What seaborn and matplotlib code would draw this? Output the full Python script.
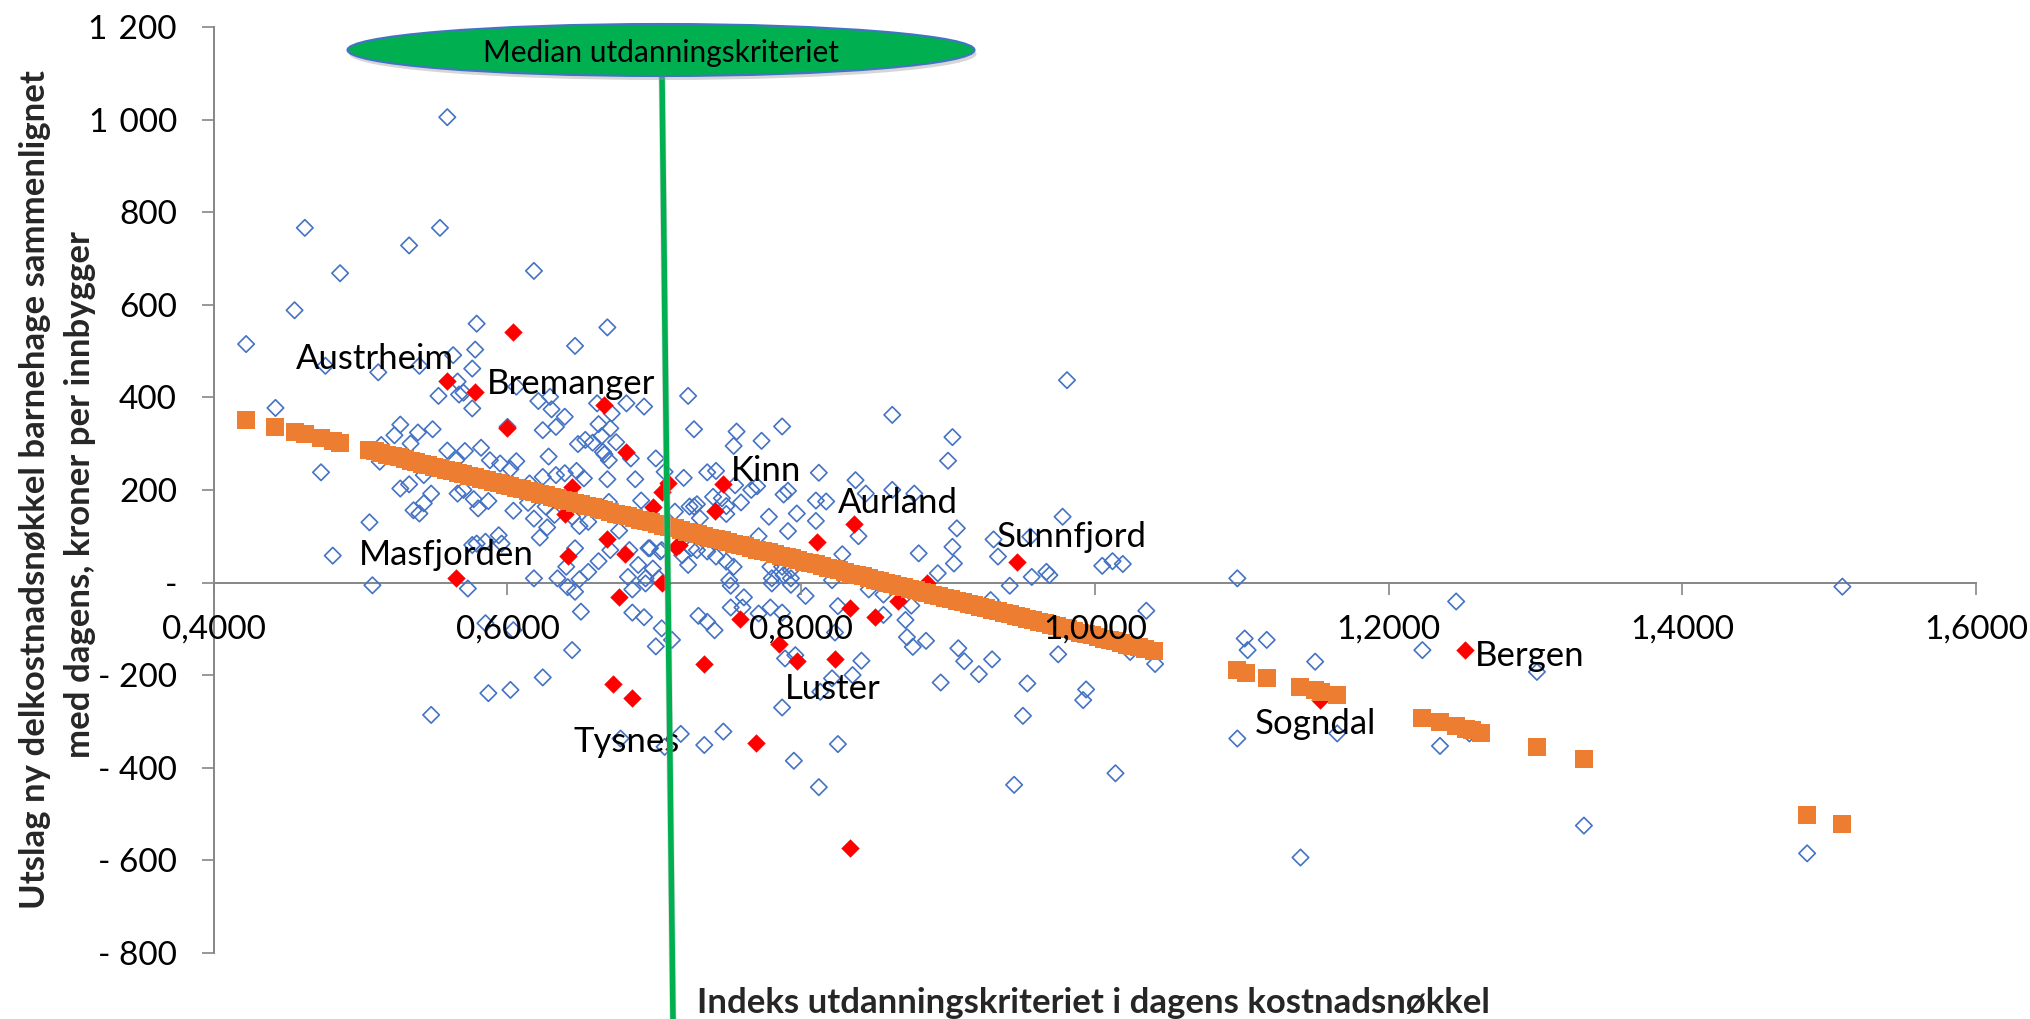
"""Utslag ny delkostnadsnokkel barnehage mot utdanningskriteriet."""
import matplotlib
matplotlib.use("Agg")
import matplotlib.pyplot as plt
import pandas as pd
import seaborn as sns
from matplotlib.patches import Ellipse
from matplotlib.ticker import FuncFormatter

blue_x = [
    .579, .668, .646, .578, .563, .576, .540, .512, .476, .566, .606, .553, .567, .570, .576, .621, .629, .630, .639, .661,
    .681, .693, .671, .600, .624, .633, .662, .670, .527, .523, .539, .549, .534, .514, .559, .571, .582, .588, .595, .606,
    .602, .628, .653, .648, .658, .664, .674, .665, .666, .669, .684, .701, .707, .720, .723, .727, .473, .513, .543, .565,
    .624, .633, .639, .647, .652, .668, .687, .615, .527, .533, .548, .543, .536, .540, .566, .570, .577, .587, .580, .604,
    .614, .618, .626, .627, .622, .506, .632, .644, .649, .655, .669, .676, .691, .714, .727, .696, .670, .481, .579, .576,
    .594, .585, .596, .646, .640, .662, .655, .689, .683, .699, .705, .723, .719, .618, .634, .682, .508, .703, .649, .641,
    .646, .573, .685, .694, .694, .650, .685, .693, .705, .701, .712, .644, .624, .602, .587, .548, .718, .747, .734, .677,
    .707, .795, .787, .585, .604, .730, .736, .741, .789, .752, .761, .760, .771, .779, .787, .752, .780, .793, .742, .749,
    .754, .779, .788, .697, .704, .725, .736, .771, .791, .778, .756, .754, .773, .787, .862, .903, .900, .736, .742, .812,
    .837, .755, .770, .766, .791, .788, .844, .862, .877, .729, .724, .740, .746, .749, .759, .749, .731, .797, .810, .817,
    .810, .828, .839, .906, .903, .880, .931, .934, .956, .904, .893, .957, .967, .969, .729, .787, .793, .751, .780, .793,
    .821, .942, 1.005, 1.012, 1.019, .803, .846, .856, .825, .875, .856, .871, .872, .876, .885, .907, .911, .930, .921, .895,
    .954, 1.035, .975, .994, .992, .951, .841, .821, .835, .813, .796, .823, .825, .812, .945, 1.014, .929, 1.041, 1.024, .978,
    .981, 1.097, 1.102, 1.104, 1.117, 1.150, 1.246, 1.223, 1.301, 1.097, 1.165, 1.235, 1.140, 1.333, 1.485, 1.509, 1.255,
    .559, .462, .554, .533, .486, .618, .455, .422, .442,
]
blue_y = [
    559, 551, 511, 503, 491, 462, 468, 454, 468, 434, 423, 403, 406, 410, 376, 392, 401, 374, 358, 387,
    387, 380, 365, 336, 329, 336, 342, 333, 341, 318, 324, 331, 300, 297, 285, 284, 291, 264, 257, 262,
    245, 272, 308, 299, 302, 316, 303, 282, 277, 264, 268, 268, 239, 226, 403, 331, 238, 261, 232, 264,
    228, 232, 236, 241, 225, 223, 223, 214, 203, 212, 192, 171, 156, 149, 192, 200, 180, 176, 160, 155,
    172, 138, 164, 119, 97, 130, 146, 142, 122, 131, 174, 112, 177, 153, 164, 74, 70, 58, 84, 81,
    102, 88, 84, 74, 34, 46, 23, 38, 70, 30, 70, 38, 59, 9, 9, 12, -6, 9, 7, -10,
    -20, -13, -15, 9, -2, -63, -65, -75, -99, -138, -124, -146, -205, -232, -239, -286, -327, -322, -351, -337,
    -355, -385, -270, -88, -103, -72, -85, -103, -164, -54, -32, -54, -67, -54, -65, -7, -2, -5, 56, 45,
    34, 34, 16, 74, 67, 74, 67, 100, 111, 142, 326, 295, 306, 337, 362, 314, 263, 238, 241, 237,
    221, 210, 208, 200, 198, 190, 192, 200, 192, 169, 164, 185, 182, 165, 173, 148, 139, 149, 177, 175,
    133, 61, 100, 117, 77, 63, 93, 56, 99, 41, 20, 12, 23, 16, 70, 34, 27, 5, 9, 9,
    5, -7, 36, 46, 40, -29, -15, -26, -51, -50, -70, -81, -118, -139, -126, -142, -170, -166, -198, -216,
    -218, -61, -155, -231, -254, -288, -169, -207, -200, -236, -157, -108, -349, -442, -437, -412, -38, -176, -150, 142,
    437, 9, -121, -146, -124, -171, -41, -146, -193, -337, -326, -353, -594, -525, -585, -9, -326,
    1005, 766, 766, 728, 668, 673, 588, 515, 377,
]

red_x = [
    .604, .559, .578, .600, .666, .681, .709, .705, .699, .644, .639, .668, .641, .680, .715, .717, .565, .705, .676,
    .672, .685, .734, .758, .785, .797, .769, .836, .811, .823, .833, .850, .866, .886, .947, .747, .741, .833, 1.252, 1.153,
]
red_y = [
    542, 435, 412, 333, 383, 282, 214, 196, 164, 207, 149, 93, 58, 62, 77, 81, 9, -2, -32,
    -220, -250, -175, -79, -133, -170, -347, 126, 88, -165, -54, -74, -41, 0, 45, 213, 154, -574, -146, -254,
]

orange_x = [
    .422, .442, .455, .462, .473, .481, .486, .506, .514, .522, .530, .538, .546, .554, .562, .570, .578, .586, .594, .602,
    .610, .618, .626, .634, .642, .650, .658, .666, .674, .682, .690, .698, .706, .714, .722, .730, .738, .746, .754, .762,
    .770, .778, .786, .794, .802, .810, .818, .826, .834, .842, .850, .858, .866, .874, .882, .890, .898, .906, .914, .922,
    .930, .938, .946, .954, .962, .970, .978, .986, .994, 1.002, 1.010, 1.018, 1.026, 1.034, 1.040,
    1.097, 1.103, 1.117, 1.140, 1.150, 1.154, 1.165, 1.223, 1.235, 1.246, 1.253, 1.257, 1.263, 1.301, 1.333, 1.485, 1.509,
    .510, .518, .526, .534, .542, .550, .558, .566, .574, .582, .590, .598, .606, .614, .622, .630, .638, .646, .654, .662,
    .670, .678, .686, .694, .702, .710, .718, .726, .734, .742, .750, .758, .766, .774, .782, .790, .798, .806, .814, .822,
    .830, .838, .846, .854, .862, .870, .878, .886, .894, .902, .910, .918, .926, .934, .942, .950, .958, .966, .974, .982,
    .990, .998, 1.006, 1.014, 1.022, 1.030,
]
orange_y = [
    352, 336, 326, 321, 312, 306, 301, 286, 279, 273, 266, 260, 253, 247, 240, 234, 227, 221, 214, 208,
    201, 195, 188, 182, 175, 169, 162, 156, 149, 143, 136, 130, 123, 117, 110, 104, 97, 91, 84, 78,
    71, 65, 58, 52, 45, 39, 32, 26, 19, 13, 6, 0, -7, -14, -20, -27, -33, -40, -46, -53,
    -59, -66, -72, -79, -85, -92, -98, -105, -111, -118, -124, -131, -137, -144, -149,
    -190, -195, -206, -225, -232, -236, -244, -293, -301, -311, -317, -319, -324, -355, -381, -503, -522,
    283, 276, 270, 263, 257, 250, 244, 237, 231, 224, 218, 211, 205, 198, 192, 185, 179, 172, 166, 159,
    153, 146, 140, 133, 127, 120, 114, 107, 101, 94, 88, 81, 75, 68, 62, 55, 49, 42, 36, 29,
    23, 16, 10, 3, -3, -10, -17, -23, -30, -36, -43, -49, -56, -62, -69, -75, -82, -88, -95, -101,
    -108, -114, -121, -127, -134, -140,
]

place_names = ["Austrheim", "Bremanger", "Kinn", "Aurland", "Sunnfjord", "Masfjorden", "Luster", "Tysnes", "Sogndal", "Bergen"]
place_x = [.4560, .586, .752, .825, .933, .4990, .789, .645, 1.109, 1.259]
place_y = [482, 429, 240, 171, 99, 59, -229, -344, -305, -159]

median_x = [.7052, .7127]
median_y = [1096, -943]

x_ticks = [.4, .6, .8, 1.0, 1.2, 1.4, 1.6]
y_ticks = [1200, 1000, 800, 600, 400, 200, 0, -200, -400, -600, -800]

W, H = 2031, 1019
BLUE, RED, ORANGE, GREEN, GREY = "#4472C4", "#FF0000", "#ED7D31", "#00B050", "#868686"

sns.set_style("white")
plt.rcParams["font.family"] = ["Lato", "DejaVu Sans"]


def y_label(v, _pos):
    if v == 0:
        return "-"
    if v < 0:
        return f"- {abs(v):.0f}"
    text = f"{v:,.0f}".replace(",", "\u2004")
    return text


fig = plt.figure(figsize=(W / 100, H / 100), dpi=100)
ax = fig.add_axes([213.8 / W, (H - 952.9) / H, 1762.2 / W, 926 / H])

blue = pd.DataFrame({"x": blue_x, "y": blue_y})
red = pd.DataFrame({"x": red_x, "y": red_y})
orange = pd.DataFrame({"x": orange_x, "y": orange_y})

sns.scatterplot(data=blue, x="x", y="y", marker="D", s=70, facecolor="none", edgecolor=BLUE, linewidth=1.2,
                clip_on=False, ax=ax)
sns.scatterplot(data=red, x="x", y="y", marker="D", s=88, color=RED, linewidth=0, clip_on=False, ax=ax)
sns.scatterplot(data=orange, x="x", y="y", marker="s", s=175, color=ORANGE, linewidth=0, clip_on=False, ax=ax)

ax.set_xlim(.4, 1.6)
ax.set_ylim(-800, 1200)
ax.set_xticks(x_ticks)
ax.set_yticks(y_ticks)
ax.set_axisbelow(False)  # tick labels lie over the markers
ax.xaxis.set_major_formatter(FuncFormatter(lambda v, _pos: f"{v:.4f}".replace(".", ",")))
ax.yaxis.set_major_formatter(FuncFormatter(y_label))
ax.tick_params(axis="x", length=8.5, width=1.2, color=GREY, labelsize=24, pad=14.5, bottom=True, labelcolor="black")
ax.tick_params(axis="y", length=8.5, width=1.2, color=GREY, labelsize=24, pad=18, left=True, labelcolor="black")
ax.set_xlabel("")
ax.set_ylabel("")

for side in ["top", "right"]:
    ax.spines[side].set_visible(False)
ax.spines["bottom"].set_position(("data", 0))
for side in ["left", "bottom"]:
    ax.spines[side].set_color(GREY)
    ax.spines[side].set_linewidth(1.4)
    ax.spines[side].set_zorder(0.5)

for name, px, py in zip(place_names, place_x, place_y):
    ax.text(px, py, name, fontsize=25, ha="left", va="center", color="black", zorder=4)

# median line and ellipse sit on top as in the original drawing
ax.plot(median_x, median_y, color="#BBBBBB", lw=5, alpha=.5, clip_on=False, zorder=5)
ax.plot(median_x, median_y, color=GREEN, lw=4, clip_on=False, zorder=6)

shadow = Ellipse((663 / W, 1 - 54 / H), 627 / W, 52 / H, transform=fig.transFigure, facecolor="#999999", alpha=.4,
                 edgecolor="none", zorder=7)
bubble = Ellipse((661 / W, 1 - 50 / H), 627 / W, 52 / H, transform=fig.transFigure, facecolor=GREEN, edgecolor=BLUE,
                 linewidth=1.5, zorder=8)
fig.add_artist(shadow)
fig.add_artist(bubble)
fig.text(661 / W, 1 - 53 / H, "Median utdanningskriteriet", fontsize=21.5, ha="center", va="center", color="black", zorder=9)

fig.text(35 / W, 1 - 490 / H, "Utslag ny delkostnadsnøkkel barnehage sammenlignet", fontsize=25, fontweight="bold",
         rotation=90, ha="center", va="center")
fig.text(80 / W, 1 - 495 / H, "med dagens, kroner per innbygger", fontsize=25, fontweight="bold",
         rotation=90, ha="center", va="center")
fig.text(1093 / W, 1 - 1003 / H, "Indeks utdanningskriteriet i dagens kostnadsnøkkel", fontsize=25, fontweight="bold",
         ha="center", va="center")

fig.savefig("out.png", dpi=100, facecolor="white")
plt.close(fig)
